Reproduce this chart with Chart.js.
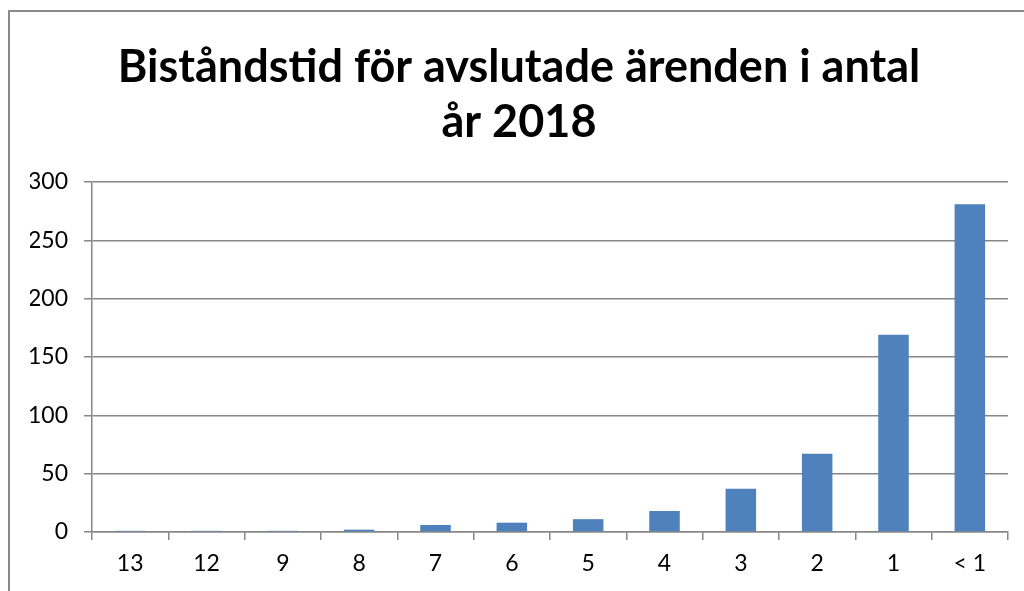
<!DOCTYPE html>
<html>
<head>
<meta charset="utf-8">
<script src="https://cdn.jsdelivr.net/npm/chart.js@4/dist/chart.umd.min.js"></script>
<style>
html,body{margin:0;padding:0;background:#fff;}
#wrap{position:absolute;left:0;top:0;width:1024px;height:591px;}
</style>
</head>
<body>
<div id="wrap"><canvas id="c" width="1024" height="591"></canvas></div>
<script>
const titleLines = ["Biståndstid för avslutade ärenden i antal", "år 2018"];
const categories = ["13", "12", "9", "8", "7", "6", "5", "4", "3", "2", "1", "< 1"];
const values = [1, 1, 1, 2, 6, 8, 11, 18, 37, 67, 169, 281];
const yTicks = [0, 50, 100, 150, 200, 250, 300];

const gridColor = "#878787";
const borderPlugin = {
  id: "outerBorder",
  beforeDraw(chart) {
    const ctx = chart.ctx;
    ctx.save();
    ctx.fillStyle = "#fff";
    ctx.fillRect(0, 0, chart.width, chart.height);
    ctx.strokeStyle = "#8a8a8a";
    ctx.lineWidth = 2;
    ctx.beginPath();
    ctx.moveTo(9, chart.height);
    ctx.lineTo(9, 11);
    ctx.lineTo(chart.width, 11);
    ctx.stroke();
    ctx.restore();
  }
};

new Chart(document.getElementById("c"), {
  type: "bar",
  data: {
    labels: categories,
    datasets: [{
      data: values,
      backgroundColor: "#4F81BD",
      borderWidth: 0,
      categoryPercentage: 0.8,
      barPercentage: 0.5
    }]
  },
  plugins: [borderPlugin],
  options: {
    responsive: false,
    animation: false,
    layout: { padding: { left: 30, right: 16, top: 0, bottom: 0 } },
    plugins: {
      legend: { display: false },
      tooltip: { enabled: false },
      title: {
        display: true,
        text: titleLines,
        color: "#000",
        font: { family: "Lato", size: 45, weight: "bold", lineHeight: 1.244 },
        padding: { top: 39, bottom: 31 }
      }
    },
    scales: {
      x: {
        offset: true,
        grid: {
          offset: true,
          drawOnChartArea: false,
          drawTicks: true,
          tickLength: 8,
          color: gridColor,
          lineWidth: 1.5
        },
        border: { display: true, color: gridColor, width: 1.5 },
        ticks: {
          color: "#000",
          font: { family: "Lato", size: 23 },
          padding: 10,
          maxRotation: 0,
          autoSkip: false
        },
        afterFit(scale) { scale.height = 59; }
      },
      y: {
        min: 0,
        max: 300,
        afterBuildTicks(scale) { scale.ticks = yTicks.map(v => ({ value: v })); },
        grid: {
          color: gridColor,
          lineWidth: 1.5,
          drawTicks: true,
          tickLength: 8
        },
        border: { display: true, color: gridColor, width: 1.5 },
        ticks: {
          color: "#000",
          font: { family: "Lato", size: 23 },
          padding: 16
        },
        afterFit(scale) { scale.width = 62; }
      }
    }
  }
});
</script>
</body>
</html>
